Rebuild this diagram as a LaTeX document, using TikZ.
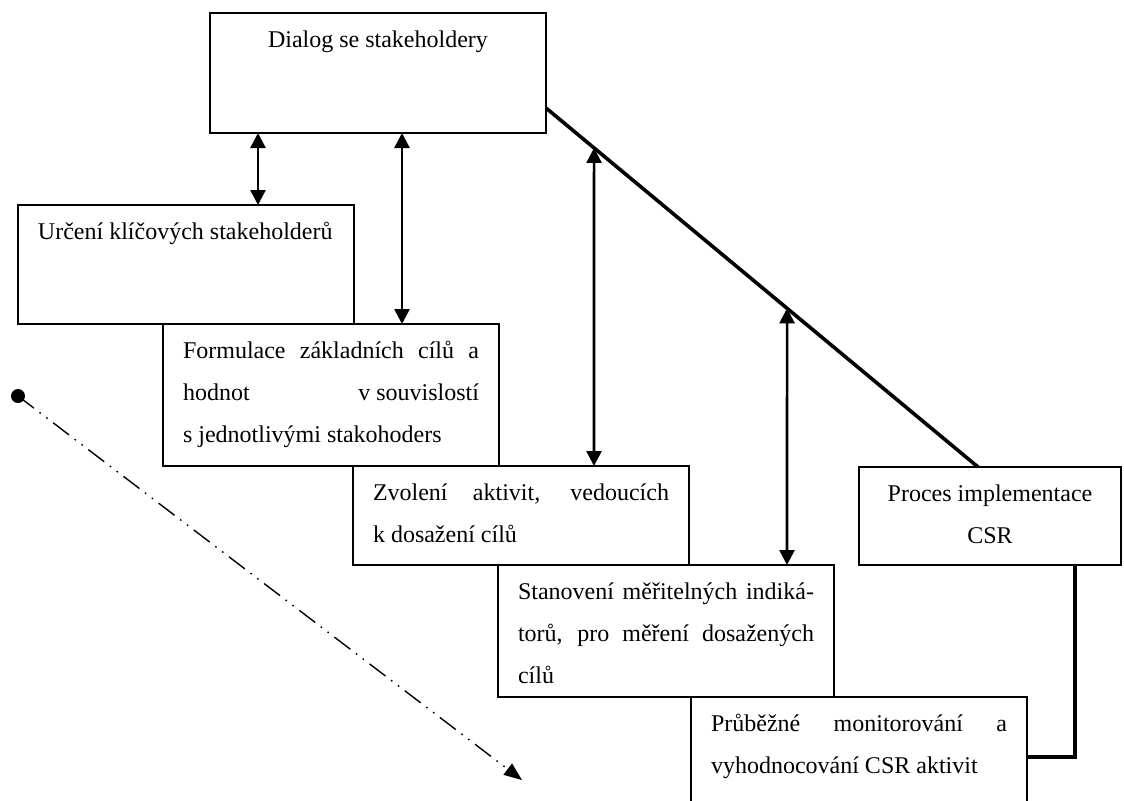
\documentclass[tikz,border=0pt]{standalone}
\usepackage{fontspec}
\setmainfont{Liberation Serif}
\usetikzlibrary{arrows.meta, positioning, calc}

\newcommand{\jline}[1]{\makebox[\linewidth][s]{#1}}
\newcommand{\boxtext}[3]{\parbox[c][#1][t]{#2}{\rule{0pt}{17pt}#3}}

\begin{document}
\begin{tikzpicture}[
    x=0.5pt, y=-0.5pt,
    stepbox/.style={draw, line width=1pt, anchor=north west, inner xsep=10pt, inner ysep=0pt, outer sep=0pt, font=\fontsize{12pt}{21pt}\selectfont},
    link/.style={line width=1.3pt, {Triangle[length=7.5pt,width=7.5pt]}-{Triangle[length=7.5pt,width=7.5pt]}},
    heavy/.style={line width=1.8pt},
    dashdotdot/.style={line width=0.7pt, dash pattern=on 10pt off 3.5pt on 0.8pt off 3.5pt on 0.8pt off 3.5pt, -{Triangle[length=9pt,width=7pt]}}
]
    \useasboundingbox (0,0) rectangle (1124,800);

    \node[stepbox] (dialog) at (210,13) {\boxtext{60pt}{148pt}{\centering Dialog se stakeholdery}};
    \node[stepbox] (urceni) at (18,205) {\boxtext{59.5pt}{148pt}{Určení klíčových stakeholderů}};
    \node[stepbox] (formulace) at (163,0 |- urceni.south) {\boxtext{71pt}{148pt}{\jline{Formulace základních cílů a}\\
        \jline{hodnot\hfill v souvislostí}\\
        s jednotlivými stakohoders}};
    \node[stepbox] (zvoleni) at (353,0 |- formulace.south) {\boxtext{49.5pt}{148pt}{\jline{Zvolení aktivit, vedoucích}\\
        k dosažení cílů}};
    \node[stepbox] (proces) at (859,467) {\boxtext{49pt}{111pt}{\centering Proces implementace\\ CSR}};
    \node[stepbox] (stanoveni) at (498,0 |- zvoleni.south) {\boxtext{66pt}{148pt}{\jline{Stanovení měřitelných indiká-}\\
        \jline{torů, pro měření dosažených}\\
        cílů}};
    \node[stepbox] (prubezne) at (691,0 |- stanoveni.south) {\boxtext{56pt}{148pt}{\jline{Průběžné monitorování a}\\
        vyhodnocování CSR aktivit}};

    \coordinate (dA) at (dialog.east |- 0,108);
    \coordinate (dB) at (978,0 |- proces.north);
    \coordinate (v3) at (594,0);
    \coordinate (w3) at (594,800);
    \coordinate (v4) at (787,0);
    \coordinate (w4) at (787,800);
    \coordinate (pr) at (1075,0 |- proces.south);
    \draw[heavy] (dA) -- (dB);

    \draw[link] (258,0 |- dialog.south) -- (258,0 |- urceni.north);
    \draw[link] (402,0 |- dialog.south) -- (402,0 |- formulace.north);
    \draw[link] (intersection of dA--dB and v3--w3) -- (v3 |- zvoleni.north);
    \draw[link] (intersection of dA--dB and v4--w4) -- (v4 |- stanoveni.north);

    \draw[line width=2.4pt] (pr) -- (pr |- 0,757) -- (prubezne.east |- 0,757);

    \node[circle, fill, inner sep=0pt, minimum size=7pt] (dot) at (18,396) {};
    \coordinate (tip) at (522,780);
    \draw[dashdotdot] (dot.center) -- (tip);
\end{tikzpicture}
\end{document}
